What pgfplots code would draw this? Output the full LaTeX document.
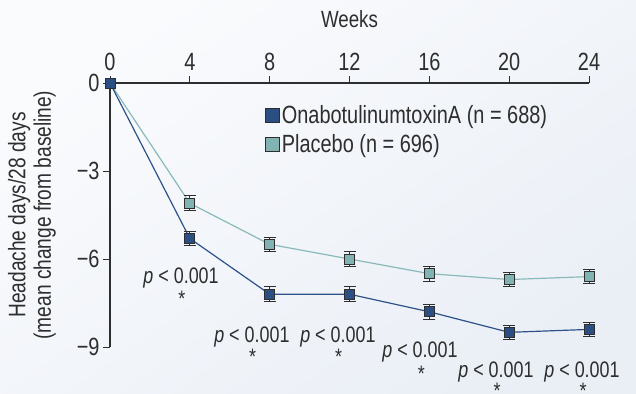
\documentclass[border=0pt]{standalone}
\usepackage{fontspec}
\setmainfont[FakeStretch=0.8]{Liberation Sans}
\usepackage{pgfplots}
\pgfplotsset{compat=1.18}
\definecolor{bgA}{HTML}{FAFBFD}
\definecolor{bgB}{HTML}{EAEFF6}
\definecolor{ona}{HTML}{2B4F82}
\definecolor{plc}{HTML}{80B3B1}
\definecolor{onaline}{HTML}{2D5189}
\definecolor{plcline}{HTML}{88BABA}
\definecolor{axc}{HTML}{2E2E2E}
\begin{document}
\begin{tikzpicture}
\shade[top color=bgA, bottom color=bgB, shading angle=35] (-110bp,-47bp) rectangle (526bp,347bp);
\useasboundingbox (-110bp,-47bp) rectangle (526bp,347bp);
\begin{axis}[
  at={(0,0)}, anchor=south west,
  scale only axis, width=479bp, height=264bp,
  xmin=0, xmax=24, ymin=-9, ymax=0,
  axis x line=top, axis y line=left,
  axis line style={-, line width=1.4pt, draw=axc},
  xtick={0,4,8,12,16,20,24},
  ytick={-9,-6,-3,0},
  yticklabels={−9,−6,−3,0},
  tick align=outside,
  major tick length=7bp,
  tick style={line width=1pt, draw=axc},
  ticklabel style={font=\fontsize{25}{28}\selectfont, text=axc},
  xticklabel style={yshift=2bp},
  /pgf/number format/assume math mode=true,
  xlabel={Weeks},
  xlabel style={font=\fontsize{23.5}{26}\selectfont, text=axc, yshift=18bp},
  clip=false,
  legend style={at={(axis cs:7.65,-0.62)}, anchor=north west, draw=none, fill=none,
    font=\fontsize{25}{28}\selectfont, text=axc, row sep=6bp,
    /tikz/every even column/.append style={column sep=6bp}},
  legend cell align=left,
  error bars/error bar style={line width=1pt, draw=axc},
  error bars/error mark options={line width=1pt, draw=axc, mark size=6bp, rotate=90},
]
\addlegendimage{only marks, mark=square*, mark size=7bp, mark options={fill=ona, draw=axc, line width=1pt}}
\addlegendentry{OnabotulinumtoxinA (n = 688)}
\addlegendimage{only marks, mark=square*, mark size=7bp, mark options={fill=plc, draw=axc, line width=1pt}}
\addlegendentry{Placebo (n = 696)}
\addplot[plcline, line width=1.2pt, mark=square*, mark size=5bp,
  mark options={fill=plc, draw=axc, line width=1pt},
  error bars/.cd, y dir=both, y explicit]
  coordinates {
  (0,0) +- (0,0)
  (4,-4.1) +- (0,0.25)
  (8,-5.5) +- (0,0.25)
  (12,-6.0) +- (0,0.25)
  (16,-6.5) +- (0,0.25)
  (20,-6.7) +- (0,0.25)
  (24,-6.6) +- (0,0.25)
  };
\addplot[onaline, line width=1.2pt, mark=square*, mark size=5bp,
  mark options={fill=ona, draw=axc, line width=1pt},
  error bars/.cd, y dir=both, y explicit]
  coordinates {
  (0,0) +- (0,0)
  (4,-5.3) +- (0,0.25)
  (8,-7.2) +- (0,0.25)
  (12,-7.2) +- (0,0.25)
  (16,-7.8) +- (0,0.25)
  (20,-8.5) +- (0,0.25)
  (24,-8.4) +- (0,0.25)
  };
\begin{scope}[every node/.style={font=\fontsize{22.5}{25}\selectfont, text=axc, inner sep=0pt}]
\node at (axis cs:3.56,-6.65) {\textit{p} < 0.001};
\node at (axis cs:3.6,-7.35) {*};
\node at (axis cs:7.11,-8.66) {\textit{p} < 0.001};
\node at (axis cs:7.15,-9.35) {*};
\node at (axis cs:11.42,-8.66) {\textit{p} < 0.001};
\node at (axis cs:11.45,-9.35) {*};
\node at (axis cs:15.53,-9.17) {\textit{p} < 0.001};
\node at (axis cs:15.6,-9.9) {*};
\node at (axis cs:19.34,-9.85) {\textit{p} < 0.001};
\node at (axis cs:19.4,-10.5) {*};
\node at (axis cs:23.65,-9.85) {\textit{p} < 0.001};
\node at (axis cs:23.7,-10.5) {*};
\end{scope}
\end{axis}
\node[rotate=90, align=center, font=\fontsize{24}{25.5}\selectfont, text=axc] at (-78bp,132bp)
  {Headache days/28 days\\(mean change from baseline)};
\end{tikzpicture}
\end{document}
